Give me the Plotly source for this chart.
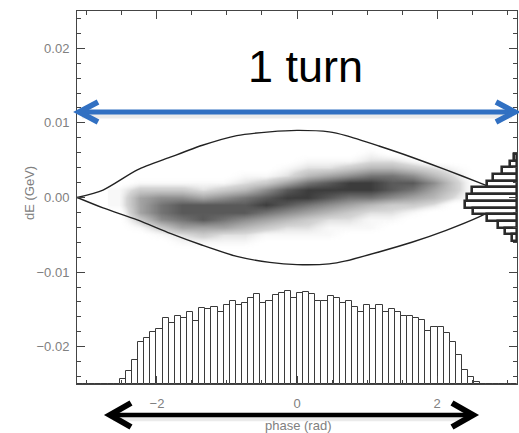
import numpy as np
import plotly.graph_objects as go

# ---------------- data ----------------
# separatrix (read points)
sep_phase = [-3.14, -2.77, -2.28, -1.81, -1.35, -0.86, -0.39, 0.0, 0.46, 0.70, 1.17, 1.64, 2.13, 2.60, 3.14]
sep_upper = [0.0, 0.0010, 0.0037, 0.0054, 0.0070, 0.0083, 0.0088, 0.0090, 0.0088, 0.0083, 0.0069, 0.0054, 0.0037, 0.0020, 0.0]
sep_lower = [0.0, -0.0014, -0.0030, -0.0048, -0.0064, -0.0079, -0.0087, -0.0090, -0.0089, -0.0085, -0.0073, -0.0060, -0.0044, -0.0026, 0.0]

# particle cloud density (estimated per cell), columns = phase, rows = dE
cloud_phase = [-2.55, -2.25, -1.95, -1.65, -1.35, -1.05, -0.75, -0.45, -0.15,
               0.15, 0.45, 0.75, 1.05, 1.35, 1.65, 1.95, 2.25, 2.55]
cloud_dE = [-0.007, -0.006, -0.005, -0.004, -0.003, -0.002, -0.001, 0.0,
            0.001, 0.002, 0.003, 0.004, 0.005, 0.006, 0.007]
cloud_density_by_column = [
    [0, 0, 0, 0, 0, 0, 1, 1, 1, 0, 0, 0, 0, 0, 0],
    [0, 0, 0, 1, 3, 5, 5, 5, 3, 1, 0, 0, 0, 0, 0],
    [0, 0, 1, 3, 6, 7, 7, 6, 3, 1, 0, 0, 0, 0, 0],
    [0, 1, 2, 5, 7, 8, 8, 6, 3, 1, 0, 0, 0, 0, 0],
    [0, 1, 3, 5, 8, 8, 8, 5, 2, 1, 0, 0, 0, 0, 0],
    [0, 1, 2, 5, 7, 8, 8, 6, 3, 1, 0, 0, 0, 0, 0],
    [0, 1, 2, 4, 6, 8, 8, 7, 4, 2, 1, 0, 0, 0, 0],
    [0, 0, 1, 3, 5, 7, 9, 8, 6, 3, 1, 0, 0, 0, 0],
    [0, 0, 1, 2, 4, 6, 8, 9, 8, 5, 2, 1, 0, 0, 0],
    [0, 0, 1, 2, 3, 5, 7, 9, 9, 7, 4, 2, 1, 0, 0],
    [0, 0, 1, 1, 2, 4, 6, 8, 9, 8, 5, 2, 1, 0, 0],
    [0, 0, 0, 1, 2, 3, 5, 7, 9, 9, 6, 3, 1, 0, 0],
    [0, 0, 0, 1, 1, 2, 4, 7, 9, 9, 7, 4, 2, 1, 0],
    [0, 0, 0, 0, 1, 2, 3, 6, 8, 8, 7, 4, 2, 0, 0],
    [0, 0, 0, 0, 0, 1, 3, 5, 7, 8, 6, 3, 1, 0, 0],
    [0, 0, 0, 0, 0, 0, 2, 4, 5, 6, 4, 2, 0, 0, 0],
    [0, 0, 0, 0, 0, 0, 0, 2, 3, 3, 2, 1, 0, 0, 0],
    [0, 0, 0, 0, 0, 0, 0, 0, 0, 0, 0, 0, 0, 0, 0],
]

# phase projection histogram: 72 bins over [-pi, pi]
n_phase_bins = 72
phase_counts = [0, 0, 0, 0, 0, 0, 0,
                5, 13, 24, 42, 46, 52, 55, 66, 61, 68, 66, 72, 63, 76, 75, 77, 72, 79,
                83, 79, 81, 86, 90, 81, 83, 89, 91, 93, 86, 91, 92, 90, 83, 83, 88, 86,
                81, 83, 77, 72, 79, 75, 79, 72, 75, 72, 68, 68, 66, 64, 53, 57, 57, 51,
                42, 29, 14, 7, 2,
                0, 0, 0, 0, 0, 0]

# energy projection histogram (right side)
energy_bins = [0.0054, 0.0045, 0.0036, 0.0027, 0.0018, 0.0009, 0.0,
               -0.0009, -0.0018, -0.0027, -0.0036, -0.0045, -0.0054]
energy_counts = [3, 7, 15, 24, 30, 45, 50, 52, 44, 30, 19, 12, 5]
energy_bin_width = 0.0009

y_tick_vals = [-0.02, -0.01, 0.0, 0.01, 0.02]
y_tick_text = ["\u22120.02", "\u22120.01", "0.00", "0.01", "0.02"]
x_tick_vals = [-2, 0, 2]
x_tick_text = ["\u22122", "0", "2"]

# ---------------- figure ----------------
W, H = 519, 433
L, R, T, B = 77, 517, 11, 384


def px(x):
    return (x - L) / (R - L)


def py(y):
    return (B - y) / (B - T)


phase_edges = np.linspace(-np.pi, np.pi, n_phase_bins + 1)
phase_centers = 0.5 * (phase_edges[:-1] + phase_edges[1:])
phase_width = phase_edges[1] - phase_edges[0]

fig = go.Figure()

fig.add_trace(go.Heatmap(
    x=cloud_phase, y=cloud_dE, z=np.array(cloud_density_by_column).T,
    zmin=0, zmax=9.5, zsmooth="best", showscale=False, hoverinfo="skip",
    colorscale=[[0, "rgba(255,255,255,0)"], [0.25, "rgba(185,185,185,0.6)"], [1, "rgba(45,45,45,1)"]],
))

fig.add_trace(go.Scatter(x=sep_phase, y=sep_upper, mode="lines",
                         line=dict(color="#222", width=1.4, shape="spline", smoothing=0.7)))
fig.add_trace(go.Scatter(x=sep_phase, y=sep_lower, mode="lines",
                         line=dict(color="#222", width=1.4, shape="spline", smoothing=0.7)))

fig.add_trace(go.Bar(x=phase_centers, y=phase_counts, width=phase_width,
                     marker=dict(color="white", line=dict(color="#3a3a3a", width=1)),
                     xaxis="x", yaxis="y2"))

fig.add_trace(go.Bar(x=energy_counts, y=energy_bins, orientation="h", width=energy_bin_width,
                     marker=dict(color="white", line=dict(color="#2a2a2a", width=2.6)),
                     xaxis="x2", yaxis="y"))

axis_font = dict(family="Liberation Sans, Arial, sans-serif", size=13, color="#808080")

fig.update_layout(
    width=W, height=H,
    margin=dict(l=L, r=W - R, t=T, b=H - B),
    paper_bgcolor="white", plot_bgcolor="white",
    showlegend=False, bargap=0,
    xaxis=dict(range=[-np.pi, np.pi], tickvals=x_tick_vals, ticktext=x_tick_text,
               ticks="inside", ticklen=8, tickcolor="#444", showline=True, linecolor="#444",
               linewidth=1, mirror="ticks", showgrid=False, zeroline=False, automargin=False,
               tickfont=axis_font, ticklabelstandoff=7,
               minor=dict(tickmode="linear", tick0=0, dtick=0.5, ticks="inside", ticklen=4,
                          tickcolor="#444")),
    yaxis=dict(range=[-0.025, 0.025], tickvals=y_tick_vals, ticktext=y_tick_text,
               ticks="inside", ticklen=8, tickcolor="#444", showline=True, linecolor="#444",
               linewidth=1, mirror="ticks", showgrid=False, zeroline=False, automargin=False,
               tickfont=axis_font, ticklabelstandoff=4,
               minor=dict(tickmode="linear", tick0=0, dtick=0.002, ticks="inside", ticklen=4,
                          tickcolor="#444")),
    yaxis2=dict(range=[0, B - T], overlaying="y", visible=False, automargin=False),
    xaxis2=dict(range=[R - L, 0], overlaying="x", visible=False, automargin=False),
)

annos = [
    dict(text="dE (GeV)", x=px(29), y=py(193), textangle=-90),
    dict(text="phase (rad)", x=px(298), y=py(425)),
]
for a in annos:
    fig.add_annotation(xref="paper", yref="paper", showarrow=False,
                       font=dict(family="Liberation Sans, Arial, sans-serif", size=13, color="#808080"),
                       xanchor="center", yanchor="middle", **a)

fig.add_annotation(xref="paper", yref="paper", x=px(305), y=py(66), text="1 turn",
                   showarrow=False, xanchor="center", yanchor="middle",
                   font=dict(family="Liberation Sans, Arial, sans-serif", size=45, color="black"))


def arrow(x0, x1, y, head_w, head_h, color, lw, hw):
    # soft shadow
    fig.add_shape(type="line", xref="paper", yref="paper",
                  x0=px(x0 + 3), x1=px(x1 - 3), y0=py(y + 3), y1=py(y + 3),
                  line=dict(color="rgba(0,0,0,0.08)", width=lw + 2))
    fig.add_shape(type="line", xref="paper", yref="paper",
                  x0=px(x0 + 2), x1=px(x1 - 2), y0=py(y), y1=py(y),
                  line=dict(color=color, width=lw))
    for tip, sgn in ((x0, 1), (x1, -1)):
        path = "M {:.5f},{:.5f} L {:.5f},{:.5f} L {:.5f},{:.5f}".format(
            px(tip + sgn * head_w), py(y - head_h), px(tip), py(y),
            px(tip + sgn * head_w), py(y + head_h))
        fig.add_shape(type="path", xref="paper", yref="paper", path=path,
                      line=dict(color=color, width=hw))


arrow(79, 515, 112, 19, 10, "#3170c2", 5, 5.5)
arrow(110, 473, 415, 21, 12, "black", 4.5, 6)

fig.write_html("out.html", config={"displayModeBar": False},
               post_script="document.body.style.margin='0';document.body.style.overflow='hidden';")
